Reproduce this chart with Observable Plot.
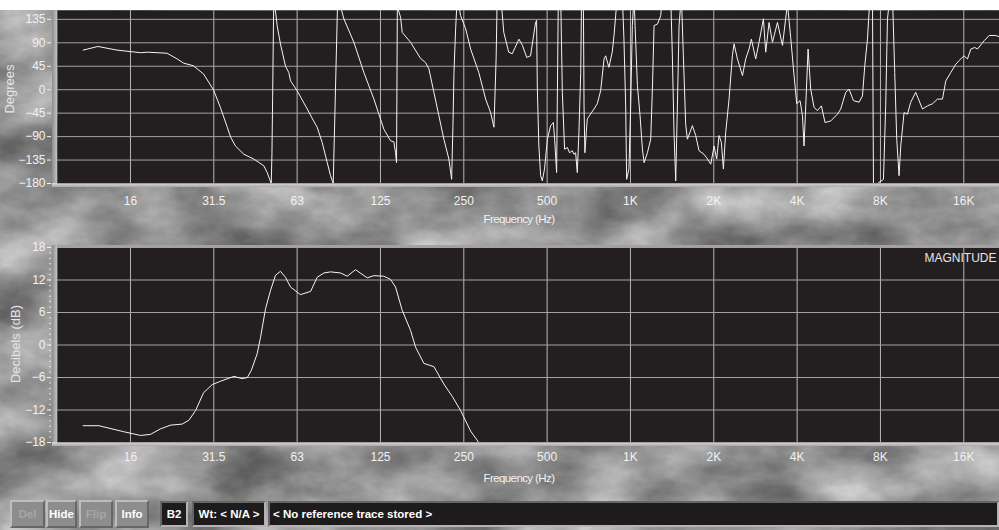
<!DOCTYPE html>
<html><head><meta charset="utf-8">
<script src="https://cdn.jsdelivr.net/npm/d3@7"></script>
<script src="https://cdn.jsdelivr.net/npm/@observablehq/plot@0.6"></script>
<style>
html,body{margin:0;padding:0;background:#fff;}
#root{position:relative;width:999px;height:530px;overflow:hidden;font-family:"Liberation Sans",Arial,sans-serif;}
.abs{position:absolute;}
.lbl{position:absolute;color:#f2f2f2;font-size:11.5px;line-height:12px;white-space:nowrap;letter-spacing:-0.6px;}
.btn{position:absolute;top:500px;height:28px;box-sizing:border-box;border:2px solid;border-color:#bdbdbd #666 #666 #bdbdbd;background:#8d8d8d;color:#fff;font:bold 11.5px "Liberation Sans",Arial,sans-serif;display:flex;align-items:center;justify-content:center;}
.blk{position:absolute;top:501px;height:26px;box-sizing:border-box;border:2px solid;border-color:#666 #b4b4b4 #b4b4b4 #666;background:#1d1b1c;color:#fff;font:bold 11.5px "Liberation Sans",Arial,sans-serif;display:flex;align-items:center;justify-content:center;white-space:nowrap;}
.plot{position:absolute;left:0;}
</style></head><body>
<div id="root">
  <svg class="abs" width="999" height="530" style="left:0;top:0">
    <defs><filter id="marble" x="0" y="0" width="100%" height="100%" color-interpolation-filters="sRGB">
      <feTurbulence type="fractalNoise" baseFrequency="0.011 0.018" numOctaves="5" seed="11"/>
      <feColorMatrix type="matrix" values="0.62 0 0 0 0.27  0.62 0 0 0 0.27  0.62 0 0 0 0.27  0 0 0 0 1"/>
    </filter></defs>
    <rect width="999" height="530" filter="url(#marble)"/>
  </svg>
  <div class="abs" style="left:0;top:0;width:999px;height:10px;background:#fff"></div>
  <!-- bevels -->
  <div class="abs" style="left:52px;top:10px;width:5px;height:177px;background:linear-gradient(to right,#8c8c8c,#c2c2c2)"></div>
  <div class="abs" style="left:52px;top:183px;width:947px;height:4px;background:linear-gradient(#dcdcdc,#a9a9a9)"></div>
  <div class="abs" style="left:52px;top:245px;width:947px;height:2px;background:#a2a2a2"></div>
  <div class="abs" style="left:52px;top:245px;width:5px;height:201px;background:linear-gradient(to right,#8c8c8c,#c2c2c2)"></div>
  <div class="abs" style="left:52px;top:442px;width:947px;height:4px;background:linear-gradient(#dcdcdc,#a9a9a9)"></div>

  <div id="topPanel" class="plot" style="top:0"></div>
  <div id="botPanel" class="plot" style="top:230px"></div>

  <div class="lbl" style="left:519px;top:213px;transform:translateX(-50%)">Frequency (Hz)</div>
  <div class="lbl" style="left:519px;top:472px;transform:translateX(-50%)">Frequency (Hz)</div>
  <div class="abs" style="left:-50px;top:82px;width:120px;text-align:center;color:#e8e8e8;font-size:13px;line-height:14px;transform:rotate(-90deg)">Degrees</div>
  <div class="abs" style="left:-44px;top:337px;width:120px;text-align:center;color:#e4e4e4;font-size:13px;line-height:14px;transform:rotate(-90deg)">Decibels (dB)</div>

  <div class="btn" style="left:10px;width:35px;color:#a6a6a6">Del</div>
  <div class="btn" style="left:46px;width:31px">Hide</div>
  <div class="btn" style="left:79px;width:34px;color:#a6a6a6">Flip</div>
  <div class="btn" style="left:115px;width:34px">Info</div>
  <div class="blk" style="left:160px;width:28px">B2</div>
  <div class="blk" style="left:192px;width:74px">Wt: &lt; N/A &gt;</div>
  <div class="blk" style="left:268px;width:731px;justify-content:flex-start;padding-left:3px">&lt; No reference trace stored &gt;</div>
</div>
<script>
// ---- data ----
const tickFreqs = [16, 32, 64, 128, 256, 512, 1024, 2048, 4096, 8192, 16384];
const tickLabels = ["16", "31.5", "63", "125", "250", "500", "1K", "2K", "4K", "8K", "16K"];
const phaseTicks = [-180, -135, -90, -45, 0, 45, 90, 135];
const dbTicks = [-18, -12, -6, 0, 6, 12, 18];
const dbMinorTicks = [-18,-17,-16,-15,-14,-13,-12,-11,-10,-9,-8,-7,-6,-5,-4,-3,-2,-1,0,1,2,3,4,5,6,7,8,9,10,11,12,13,14,15,16,17,18];

const phaseFreq = [10.8,12.2,14.3,17.4,18.4,21.7,23.6,24.9,27.0,29.4,31.9,33.8,35.8,36.8,38.3,41.1,44.6,48.5,49.9,51.6,51.9,52.2,52.7,
  54.2,55.7,57.3,58.1,59.7,60.6,64.0,69.6,73.4,75.6,78.8,82.2,84.5,86.4,89.7,
  94.4,102.6,111.5,121.2,131.7,139.2,143.1,145.1,146.3,147.3,151.3,153.4,164.4,178.7,186.3,191.5,199.6,208.1,216.9,226.1,231.4,233.9,235.9,239.2,242.5,
  249.3,260,271,290,307,320,329,335,338,348,357,372,383,405,417,432,446,465,469,472,478,485,492,501,513,527,539,545,554,562,573,
  581,592,606,617,631,640,649,658,667,677,682,692,696,701,709,715,756,777,799,822,833,856,880,893,918,957,970,984,992,
  1011,1026,1040,1055,1064,1085,1109,1131,1147,1179,1212,1229,1246,1282,1317,1336,1431,1451,1471,1492,1513,1534,1564,1590,1621,1644,1714,1762,1811,1888,1943,1997,
  2053,2098,2139,2181,2218,2261,2325,2390,2424,2493,2600,2670,2746,2800,2902,2984,3094,3154,3243,3336,3478,3626,3779,3883,3973,
  4082,4197,4282,4339,4400,4486,4586,4715,4851,5013,5166,5416,5725,5886,6136,6308,6544,6856,7053,7190,7352,7512,7665,7729,7990,
  8400,8558,8683,8872,9053,9224,9380,9564,9697,9969,10256,10537,10984,11617,12112,12627,13163,13722,14107,14707,15331,15761,16429,16893,17368,17955,18358,19405,20229,21381,22105];
const phaseDeg = [76,83,76,71,72,70,59,51,46,30,0,-34,-72,-91,-108,-124,-133,-146,-159,-180,-123,-15,180,
  123,88,59,45,33,17,-2,-37,-60,-72,-101,-140,-165,-180,180,
  136,91,33,-18,-76,-98,-100,-121,-140,160,139,110,91,60,52,40,-5,-50,-95,-133,-172,-69,33,117,180,
  142,117,78,33,-18,-44,-72,60,180,180,110,72,69,97,85,62,65,129,133,1,-108,-165,-175,-152,-95,-69,-63,-95,-159,180,180,
  -5,-114,-111,-121,-117,-124,-121,-159,-82,33,180,180,-31,-121,-82,-56,-37,-27,-2,59,65,43,72,104,180,180,97,-31,-172,
  -152,-31,123,180,123,8,-50,-114,-140,-121,-95,1,123,126,142,180,180,65,-82,-175,-31,123,180,65,-66,-95,-69,-88,-117,-124,-133,-143,
  -108,-133,-88,-101,-152,-82,-18,65,88,59,27,59,78,97,59,91,136,72,129,91,129,85,165,100,40,
  -27,-21,-50,-108,-31,78,1,-34,-40,-31,-63,-60,-47,-37,-5,1,-21,-24,-12,46,97,180,180,-180,-180,
  -172,-31,136,180,180,33,-95,-165,-108,-44,-47,-24,-5,-37,-31,-27,-18,-18,17,33,49,56,65,59,78,81,78,94,104,104,101];

const magFreq = [10.8,12.3,13.5,15.1,17.4,18.9,20.5,22.3,24.6,26.0,27.5,29.4,31.6,33.8,37.8,40.5,42.3,43.7,45.9,47.2,49.2,51.3,53.5,55.7,58.1,60.6,65.8,71.6,75.6,80.0,84.5,91.8,97.1,104.0,114.7,121.2,131.7,139.2,145.1,153.4,164.4,171.4,183.7,199.6,216.9,232.6,249.3,271,290,300];
const magDb = [-14.9,-14.9,-15.4,-16.0,-16.7,-16.5,-15.5,-14.8,-14.6,-13.9,-12.1,-8.8,-7.3,-6.7,-5.8,-6.2,-6.0,-4.7,-1.6,1.4,6.7,10.1,12.9,13.6,12.5,10.7,9.3,9.9,12.5,13.3,13.5,13.3,12.7,13.9,12.4,12.8,12.7,12.1,10.7,6.4,2.7,-0.4,-3.4,-4.0,-7.2,-9.5,-12.1,-15.9,-18.0,-19.5];

// ---- build ----
const phase = phaseFreq.map((f, i) => ({f, v: phaseDeg[i]}));
const mag = magFreq.map((f, i) => ({f, v: magDb[i]}));
const fmt = d => tickLabels[tickFreqs.indexOf(d)];
const FONT = "Liberation Sans, Arial, sans-serif";
const xScale = {type: "log", base: 2, domain: [8.72, 22050]};
const common = {width: 999, marginLeft: 57, marginRight: 0,
  style: {background: "transparent", color: "#f2f2f2", fontFamily: FONT, fontSize: "12px", overflow: "visible"}};

const phasePlot = Plot.plot({
  ...common, height: 230, marginTop: 10, marginBottom: 47,
  x: xScale, y: {domain: [-180, 152]},
  marks: [
    Plot.frame({fill: "#231f20", stroke: "none"}),
    Plot.gridX({ticks: tickFreqs, stroke: "#b6b6b6", strokeOpacity: 1}),
    Plot.gridY({ticks: phaseTicks, stroke: "#a2a2a2", strokeOpacity: 1}),
    Plot.line(phase, {x: "f", y: "v", stroke: "#f4f4f4", strokeWidth: 1, clip: true}),
    Plot.axisX({ticks: tickFreqs, tickFormat: fmt, tickSize: 0, tickPadding: 13, label: null}),
    Plot.axisY({ticks: phaseTicks, tickSize: 4, tickPadding: 2, dx: -6, label: null})
  ]
});
document.getElementById("topPanel").append(phasePlot);

const magPlot = Plot.plot({
  ...common, height: 265, marginTop: 17, marginBottom: 53,
  x: xScale, y: {domain: [-18, 18]},
  marks: [
    Plot.frame({fill: "#231f20", stroke: "none"}),
    Plot.text(["MAGNITUDE"], {frameAnchor: "top-right", dx: -3, dy: 11, textAnchor: "end", lineAnchor: "middle", fill: "#e6e6e6", fontSize: 12}),
    Plot.gridX({ticks: tickFreqs, stroke: "#b6b6b6", strokeOpacity: 1}),
    Plot.gridY({ticks: dbTicks, stroke: "#a2a2a2", strokeOpacity: 1}),
    Plot.line(mag, {x: "f", y: "v", stroke: "#f4f4f4", strokeWidth: 1, clip: true}),
    Plot.axisX({ticks: tickFreqs, tickFormat: fmt, tickSize: 0, tickPadding: 10, label: null}),
    Plot.axisY({ticks: dbMinorTicks, tickSize: 2, tickFormat: () => "", dx: -6, label: null, strokeOpacity: 0.8}),
    Plot.axisY({ticks: dbTicks, tickSize: 4, tickPadding: 2, dx: -6, label: null})
  ]
});
document.getElementById("botPanel").append(magPlot);
</script>
</body></html>
